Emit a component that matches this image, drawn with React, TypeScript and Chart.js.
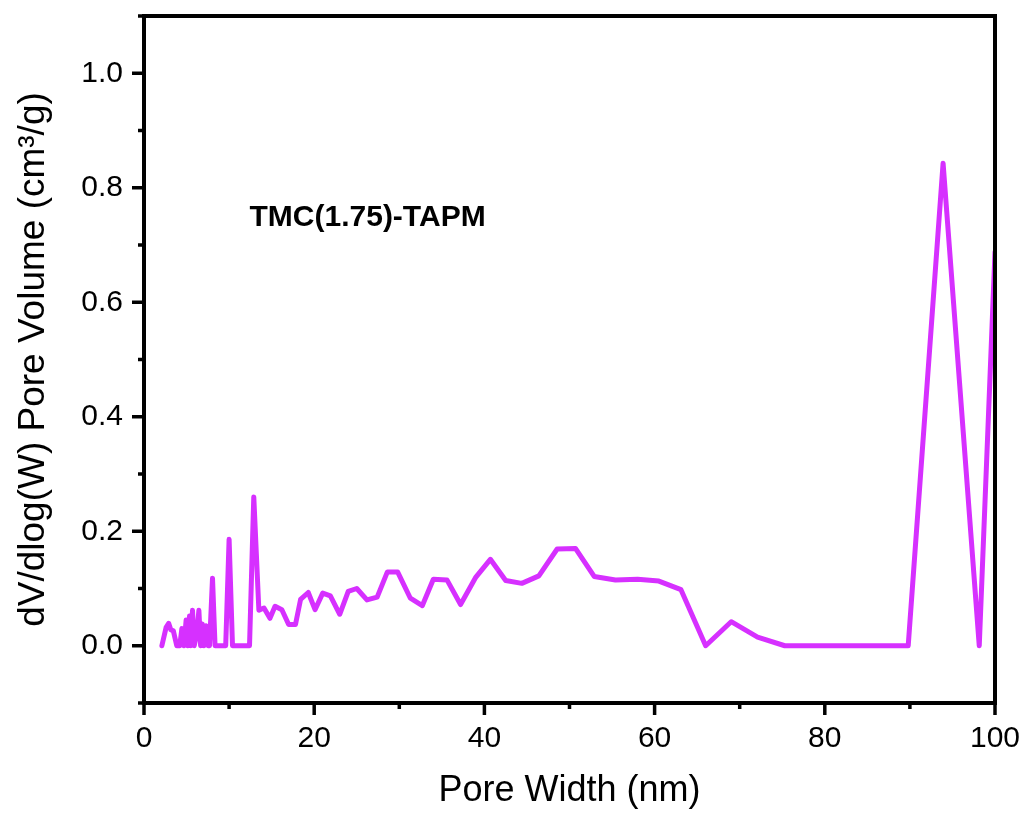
import React, { useEffect, useRef } from 'react';
import { Chart, registerables } from 'chart.js';

Chart.register(...registerables);

// Pore width (nm)
const poreWidth: number[] = [
  2.1, 2.6, 2.9, 3.15, 3.45, 3.85, 4.2, 4.45, 4.7, 4.95, 5.15, 5.35, 5.5, 5.7, 5.9,
  6.2, 6.45, 6.65, 6.85, 7.05, 7.3, 7.55, 7.7, 8.05, 8.35, 9.6, 10.0, 10.4, 12.4,
  12.9, 13.5, 14.1, 14.8, 15.4, 16.2, 17.0, 17.8, 18.4, 19.3, 20.1, 21.0, 21.9,
  23.0, 24.0, 25.0, 26.2, 27.4, 28.6, 29.8, 31.3, 32.7, 34.0, 35.6, 37.2, 39.0,
  40.7, 42.5, 44.4, 46.4, 48.55, 50.7, 52.9, 55.4, 58.0, 60.5, 63.1, 66.0, 69.0,
  72.1, 75.3, 78.6, 82.1, 85.8, 89.8, 93.9, 98.15, 100.0,
];

// dV/dlog(W) pore volume (cm³/g)
const poreVolume: number[] = [
  0, 0.032, 0.039, 0.028, 0.026, 0, 0, 0.03, 0, 0.045, 0, 0.052, 0, 0.062, 0,
  0.02, 0.062, 0, 0.038, 0, 0.035, 0, 0, 0.118, 0, 0, 0.186, 0, 0,
  0.26, 0.062, 0.066, 0.048, 0.069, 0.063, 0.037, 0.037, 0.081, 0.093, 0.063, 0.092, 0.087,
  0.055, 0.095, 0.1, 0.08, 0.085, 0.129, 0.129, 0.083, 0.07, 0.116, 0.115, 0.072, 0.12,
  0.151, 0.114, 0.109, 0.122, 0.169, 0.17, 0.121, 0.115, 0.116, 0.113, 0.098, 0, 0.042,
  0.015, 0, 0, 0, 0, 0, 0.843, 0, 0.688,
];

const xMajorTicks: number[] = [0, 20, 40, 60, 80, 100];
const xMinorTicks: number[] = [10, 30, 50, 70, 90];
const yMajorTicks: number[] = [0, 0.2, 0.4, 0.6, 0.8, 1.0];
const yMinorTicks: number[] = [-0.1, 0.1, 0.3, 0.5, 0.7, 0.9, 1.1];

const sampleLabel = 'TMC(1.75)-TAPM';
const xTitle = 'Pore Width (nm)';
const yTitle = 'dV/dlog(W) Pore Volume (cm³/g)';

const FONT = '"Liberation Sans", Arial, Helvetica, sans-serif';
const LINE_COLOR = 'rgb(214, 48, 255)';

const frameAndTicks = {
  id: 'frameAndTicks',
  afterDraw(chart: any) {
    const { ctx, chartArea: a, scales } = chart;
    const x = scales.x;
    const y = scales.y;
    ctx.save();
    ctx.strokeStyle = '#000';
    ctx.lineCap = 'butt';
    ctx.lineWidth = 3.5;
    const drawX = (vals: number[], len: number) => {
      vals.forEach((v) => {
        const px = x.getPixelForValue(v);
        ctx.beginPath();
        ctx.moveTo(px, a.bottom);
        ctx.lineTo(px, a.bottom + len);
        ctx.stroke();
      });
    };
    const drawY = (vals: number[], len: number) => {
      vals.forEach((v) => {
        const py = y.getPixelForValue(v);
        ctx.beginPath();
        ctx.moveTo(a.left, py);
        ctx.lineTo(a.left - len, py);
        ctx.stroke();
      });
    };
    drawX(xMajorTicks, 12);
    drawX(xMinorTicks, 6);
    drawY(yMajorTicks, 12);
    drawY(yMinorTicks, 6);
    ctx.lineWidth = 4;
    ctx.strokeRect(a.left, a.top, a.right - a.left, a.bottom - a.top);

    ctx.fillStyle = '#000';
    ctx.font = `bold 30px ${FONT}`;
    ctx.textAlign = 'left';
    ctx.textBaseline = 'middle';
    ctx.fillText(sampleLabel, x.getPixelForValue(12.4), y.getPixelForValue(0.748));
    ctx.restore();
  },
};

const zeroPadding = (scale: any) => {
  scale.paddingTop = 0;
  scale.paddingBottom = 0;
  scale.paddingLeft = 0;
  scale.paddingRight = 0;
};

export default function App() {
  const canvasRef = useRef<HTMLCanvasElement | null>(null);

  useEffect(() => {
    const canvas = canvasRef.current;
    if (!canvas) return;
    const chart = new Chart(canvas, {
      type: 'line',
      data: {
        datasets: [
          {
            data: poreWidth.map((w, i) => ({ x: w, y: poreVolume[i] })),
            borderColor: LINE_COLOR,
            backgroundColor: LINE_COLOR,
            borderWidth: 5,
            pointRadius: 0,
            tension: 0,
            borderJoinStyle: 'round',
            borderCapStyle: 'round',
            fill: false,
          },
        ],
      },
      options: {
        responsive: false,
        animation: false,
        devicePixelRatio: 1,
        layout: { padding: { top: 16, right: 30, left: 0, bottom: 0 } },
        plugins: {
          legend: { display: false },
          tooltip: { enabled: false },
          title: { display: false },
        },
        scales: {
          x: {
            type: 'linear',
            min: 0,
            max: 100,
            afterBuildTicks: (scale: any) => {
              scale.ticks = xMajorTicks.map((v) => ({ value: v }));
            },
            afterFit: (scale: any) => {
              scale.height = 110;
              zeroPadding(scale);
            },
            grid: { display: false, drawTicks: false },
            border: { display: false },
            ticks: {
              color: '#000',
              font: { family: FONT, size: 30 },
              padding: 18,
              maxRotation: 0,
              autoSkip: false,
              callback: (v: any) => String(v),
            },
            title: {
              display: true,
              text: xTitle,
              color: '#000',
              font: { family: FONT, size: 36 },
              padding: { top: 0, bottom: 0 },
            },
          },
          y: {
            type: 'linear',
            min: -0.1,
            max: 1.1,
            afterBuildTicks: (scale: any) => {
              scale.ticks = yMajorTicks.map((v) => ({ value: v }));
            },
            afterFit: (scale: any) => {
              scale.width = 144;
              zeroPadding(scale);
            },
            grid: { display: false, drawTicks: false },
            border: { display: false },
            ticks: {
              color: '#000',
              font: { family: FONT, size: 30 },
              padding: 21,
              autoSkip: false,
              callback: (v: any) => Number(v).toFixed(1),
            },
            title: {
              display: true,
              text: yTitle,
              color: '#000',
              font: { family: FONT, size: 37 },
              padding: { top: 12, bottom: 0 },
            },
          },
        },
      },
      plugins: [frameAndTicks],
    });
    return () => chart.destroy();
  }, []);

  return (
    <div style={{ position: 'absolute', left: 0, top: 0, width: 1025, height: 813, background: '#fff' }}>
      <canvas ref={canvasRef} width={1025} height={813} style={{ display: 'block' }} />
    </div>
  );
}
